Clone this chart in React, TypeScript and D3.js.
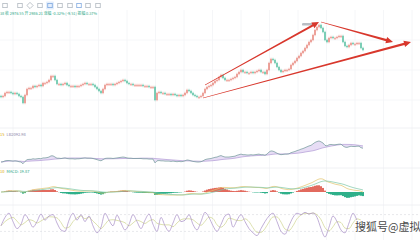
import React from 'react';
import * as d3 from 'd3';

const closes = [2765,2770,2785,2790,2790,2785,2780,2785,2780,2770,
2765,2735,2775,2805,2810,2810,2820,2815,2820,2825,
2820,2835,2835,2840,2850,2870,2870,2850,2830,2830,
2825,2830,2835,2825,2820,2820,2820,2815,2820,2820,
2825,2830,2835,2830,2830,2830,2825,2815,2805,2795,
2785,2805,2825,2830,2830,2830,2825,2830,2835,2840,
2845,2850,2845,2835,2830,2830,2825,2825,2825,2825,
2825,2820,2820,2820,2815,2815,2815,2750,2785,2790,
2785,2785,2780,2780,2780,2775,2780,2775,2770,2775,
2770,2775,2785,2800,2795,2785,2775,2770,2765,2765,
2770,2785,2805,2815,2820,2825,2835,2845,2850,2865,
2875,2860,2850,2850,2850,2855,2860,2865,2880,2890,
2900,2890,2890,2885,2885,2890,2885,2890,2895,2900,
2890,2890,2880,2900,2935,2955,2950,2935,2915,2900,
2890,2895,2900,2900,2905,2925,2935,2945,2960,2970,
2985,2995,3010,3025,3040,3050,3075,3100,3115,3125,
3110,3090,3050,3040,3060,3065,3060,3060,3065,3070,
3070,3040,3020,3015,3025,3035,3030,3030,3035,3035,
3010,3000];

const kValues = [40,70,85,55,30,45,80,60,35,55,
82,60,75,80,50,25,20,60,85,60,
80,55,75,40,15,35,85,60,40,78,
50,25,45,80,55,30,60,82,45,20,
70,40,20,50,80,55,60,80,45,25,
55,88,70,40,20,45,75,82,35,60,
80,55,30,15,5,30,55,75,85,55,
20,10,40,70,85,80,88,82,86,70,
30,0,35,75,55,25,15,50,85,60,35];

// trend-line annotations: [startIndex, startPrice, endIndex, endPrice]
const trendLines = [
  [102, 2825, 159, 3140],
  [160, 3140, 196, 3040],
  [101, 2760, 205, 3040],
];

const toolIcons = ['line', 'rect', 'pen', 'fib', 'grid', 'box', 'img', 'gear', 'funnel', 'trash'];
const infoText = '38 收 2976.55  开 2986.21  涨幅 -0.32% (-9.51)  振幅 0.37%';
const bandLabel = ['15', 'LB2092.98'];
const macdLabel = ['10', 'MACD: 19.87'];
const watermark = '搜狐号@虚拟';

function ema(arr: number[], n: number) {
  const k = 2 / (n + 1);
  const out: number[] = [];
  arr.forEach((v, i) => out.push(i === 0 ? v : v * k + out[i - 1] * (1 - k)));
  return out;
}

function arrowPoints(x1: number, y1: number, x2: number, y2: number) {
  const w1 = 0.35, w2 = 1.1, hl = 7, hw = 3.2;
  const dx = x2 - x1, dy = y2 - y1, L = Math.hypot(dx, dy);
  const ux = dx / L, uy = dy / L, px = -uy, py = ux;
  const bx = x2 - ux * hl, by = y2 - uy * hl;
  const pts = [
    [x1 + px * w1, y1 + py * w1],
    [bx + px * w2, by + py * w2],
    [bx + px * hw, by + py * hw],
    [x2, y2],
    [bx - px * hw, by - py * hw],
    [bx - px * w2, by - py * w2],
    [x1 - px * w1, y1 - py * w1],
  ];
  return pts.map(p => p.join(',')).join(' ');
}

export default function App() {
  const W = 420, H = 240;
  const n = closes.length;
  const opens = closes.map((c, i) => (i === 0 ? 2770 : closes[i - 1]));
  const x = d3.scaleLinear().domain([0, n - 1]).range([1, 363]);
  const y = d3.scaleLinear().domain([2625, 3150]).range([125, 20]);

  // band panel
  const sma = closes.map((_, i) => d3.mean(closes.slice(Math.max(0, i - 19), i + 1)) as number);
  const yB = d3.scaleLinear().domain([2700, 3150]).range([165.8, 139.5]);
  const bandArea = d3.area<number>().x((_, i) => x(i)).y0((d) => yB(d)).y1((_, i) => yB(sma[i]));
  const lineB = d3.line<number>().x((_, i) => x(i)).y((d) => yB(d));

  // MACD
  const e12 = ema(closes, 12), e26 = ema(closes, 26);
  const dif = e12.map((v, i) => v - e26[i]);
  const dea = ema(dif, 9);
  const hist = dif.map((v, i) => 2 * (v - dea[i]));
  const yM = d3.scaleLinear().domain([-50, 50]).range([204, 180]);
  const lineM = d3.line<number>().x((_, i) => x(i)).y((d) => yM(d));

  // oscillator
  const dValues = kValues.map((_, i) => d3.mean(kValues.slice(Math.max(0, i - 2), i + 1)) as number);
  const xK = d3.scaleLinear().domain([0, kValues.length - 1]).range([1, 361]);
  const yK = d3.scaleLinear().domain([0, 100]).range([237, 209]);
  const lineK = d3.line<number>().x((_, i) => xK(i)).y((d) => yK(d)).curve(d3.curveMonotoneX);

  const gridX = d3.range(13, W, 28.5);
  const up = '#e26a5e', down = '#2fb08a';

  return (
    <svg width={W} height={H} style={{ position: 'absolute', left: 0, top: 0, background: '#fff' }}
      fontFamily="'Noto Sans CJK SC', 'Noto Sans', sans-serif">
      {/* grid */}
      {gridX.map((gx, i) => (
        <line key={'g' + i} x1={gx} x2={gx} y1={10} y2={H} stroke="#f2f4f6" strokeWidth={0.8} />
      ))}
      {[40, 70, 100].map((gy, i) => (
        <line key={'h' + i} x1={0} x2={W} y1={gy} y2={gy} stroke="#f4f5f7" strokeWidth={0.8} />
      ))}
      {[128, 168, 205].map((gy, i) => (
        <line key={'s' + i} x1={0} x2={W} y1={gy} y2={gy} stroke="#eceef1" strokeWidth={0.8} />
      ))}

      {/* toolbar */}
      {toolIcons.map((t, i) => {
        const cx = [5, 20, 30, 40, 50, 60, 70, 79, 88, 98][i];
        const hl = t === 'grid';
        const col = hl || t === 'gear' ? '#5b8fd6' : '#9aa3ad';
        return (
          <g key={t}>
            {hl && <rect x={cx - 4} y={1.5} width={8} height={8} fill="#e4eefb" rx={1} />}
            <rect x={cx - 2.2} y={3.3} width={4.4} height={4.4} fill="none" stroke={col} strokeWidth={0.6}
              transform={t === 'pen' ? `rotate(45 ${cx} 5.5)` : undefined} />
          </g>
        );
      })}
      <text x={0} y={14.5} fontSize={4} fill="#2fa888" textLength={97} lengthAdjust="spacingAndGlyphs">{infoText}</text>

      {/* candles */}
      {closes.map((c, i) => {
        const o = opens[i];
        const col = c >= o ? up : down;
        const top = y(Math.max(o, c)), bot = y(Math.min(o, c));
        const h = Math.max(0.8, bot - top);
        return (
          <g key={'c' + i}>
            <line x1={x(i)} x2={x(i)} y1={top - 1.2} y2={top + h + 1.2} stroke={col} strokeWidth={0.5} />
            <rect x={x(i) - 0.5} y={top} width={1} height={h} fill={col} />
          </g>
        );
      })}

      {/* annotations */}
      <rect x={302} y={23} width={13} height={2.6} rx={1.2} fill="#b9bec4" />
      {trendLines.map((t, i) => (
        <polygon key={'a' + i} points={arrowPoints(x(t[0]), y(t[1]), x(t[2]), y(t[3]))} fill="#d8372c" />
      ))}

      {/* band panel */}
      <text x={0} y={136} fontSize={4}><tspan fill="#d9a400">{bandLabel[0]}</tspan><tspan dx={2} fill="#8a7fa8">{bandLabel[1]}</tspan></text>
      <path d={bandArea(closes) || ''} fill="#e4d9f4" opacity={0.9} />
      <path d={lineB(sma) || ''} fill="none" stroke="#b29bd6" strokeWidth={0.7} />
      <path d={lineB(closes) || ''} fill="none" stroke="#6e9797" strokeWidth={0.7} />

      {/* MACD panel */}
      <text x={0} y={173} fontSize={4}><tspan fill="#d9a400">{macdLabel[0]}</tspan><tspan dx={2} fill="#2fa888">{macdLabel[1]}</tspan></text>
      {hist.map((h, i) => (
        <rect key={'m' + i} x={x(i) - 1} width={2}
          y={Math.min(yM(h), yM(0))} height={Math.abs(yM(h) - yM(0))}
          fill={h >= 0 ? up : down} />
      ))}
      <path d={lineM(dif) || ''} fill="none" stroke="#e3c36a" strokeWidth={0.7} />
      <path d={lineM(dea) || ''} fill="none" stroke="#7cc7a6" strokeWidth={0.7} />

      {/* oscillator */}
      {[20, 80].map((v) => (
        <line key={'d' + v} x1={0} x2={W} y1={yK(v)} y2={yK(v)} stroke="#d6d9de" strokeWidth={0.6} strokeDasharray="2,2" />
      ))}
      <path d={lineK(dValues) || ''} fill="none" stroke="#cfd48f" strokeWidth={0.7} />
      <path d={lineK(kValues) || ''} fill="none" stroke="#a68cc6" strokeWidth={0.7} />

      {/* watermark */}
      <text x={355} y={231} fontSize={11} fill="#4a4a4a" stroke="#fff" strokeWidth={2} paintOrder="stroke">{watermark}</text>
    </svg>
  );
}
